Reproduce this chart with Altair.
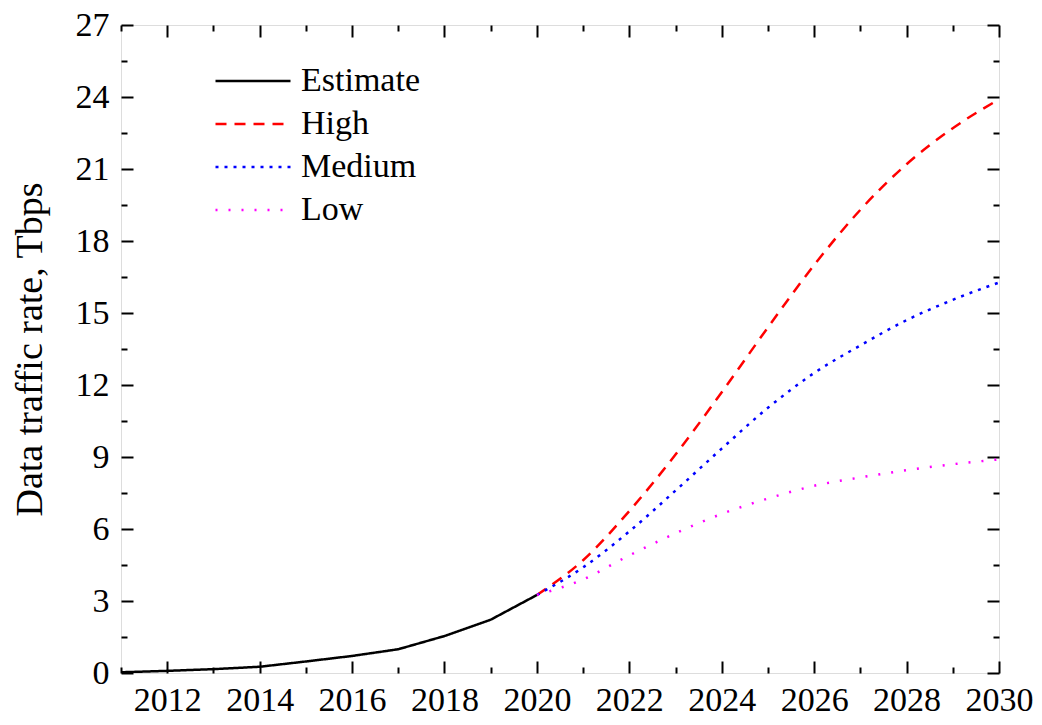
import altair as alt
import pandas as pd

FONT = "Liberation Serif"

# ---- data ----
series_names = ["Estimate", "High", "Medium", "Low"]
series_colors = ["#000000", "#ff0000", "#0000ff", "#ff00ff"]
series_dashes = [[1, 0], [11, 8], [3, 6], [2, 11]]

est_years = [2011, 2012, 2013, 2014, 2015, 2016, 2017, 2018, 2019, 2020]
estimate = [0.03, 0.09, 0.16, 0.26, 0.48, 0.71, 0.99, 1.54, 2.22, 3.25]

proj_years = [2020, 2021, 2022, 2023, 2024, 2025, 2026, 2027, 2028, 2029, 2030]
high = [3.25, 4.7, 6.75, 9.1, 11.7, 14.4, 17.0, 19.3, 21.2, 22.7, 23.9]
medium = [3.25, 4.4, 5.9, 7.6, 9.35, 11.05, 12.5, 13.65, 14.7, 15.55, 16.27]
low = [3.25, 3.9, 4.9, 5.82, 6.63, 7.27, 7.8, 8.15, 8.45, 8.7, 8.9]

x_major = [2012, 2014, 2016, 2018, 2020, 2022, 2024, 2026, 2028, 2030]
x_minor = [2011, 2013, 2015, 2017, 2019, 2021, 2023, 2025, 2027, 2029]
y_major = [0, 3, 6, 9, 12, 15, 18, 21, 24, 27]
y_minor = [1.5, 4.5, 7.5, 10.5, 13.5, 16.5, 19.5, 22.5, 25.5]

est_rows = [{"year": y, "value": v, "series": "Estimate"} for y, v in zip(est_years, estimate)]
proj_rows = []
for name, vals in (("High", high), ("Medium", medium), ("Low", low)):
    for y, v in zip(proj_years, vals):
        proj_rows.append({"year": y, "value": v, "series": name})
df_est = pd.DataFrame(est_rows)
df_proj = pd.DataFrame(proj_rows)
df_all = pd.concat([df_est, df_proj], ignore_index=True)

xs = alt.Scale(domain=[2011, 2030], nice=False, zero=False)
ys = alt.Scale(domain=[0, 27], nice=False, zero=False)

legend = alt.Legend(
    title=None, orient="none", legendX=93, legendY=39,
    symbolType="stroke", symbolSize=5625, symbolStrokeWidth=2.5,
    labelFont=FONT, labelFontSize=34, labelColor="black", labelOffset=9,
    clipHeight=34, rowPadding=9, padding=0, labelLimit=400,
)

color_enc = alt.Color("series:N", scale=alt.Scale(domain=series_names, range=series_colors), legend=legend)
dash_enc = alt.StrokeDash("series:N", scale=alt.Scale(domain=series_names, range=series_dashes), legend=legend)

x_main = alt.X("year:Q", scale=xs, axis=alt.Axis(
    orient="bottom", values=x_major, format="d", title=None, grid=False,
    domain=False, ticks=False, tickSize=0, labelFont=FONT, labelFontSize=34,
    labelColor="black", labelPadding=10, labelFlush=False, labelOverlap=False))
y_main = alt.Y("value:Q", scale=ys, axis=alt.Axis(
    orient="left", values=y_major, format="d", title="Data traffic rate, Tbps",
    grid=False, domain=False, ticks=False, tickSize=0, labelFont=FONT,
    labelFontSize=34, labelColor="black", labelPadding=12, labelOverlap=False,
    titleFont=FONT, titleFontSize=38, titleFontWeight="normal",
    titleColor="black", titlePadding=26))

proj_lines = alt.Chart(df_proj).mark_line(strokeWidth=2.5, interpolate="monotone", clip=True).encode(
    x=x_main, y=y_main, color=color_enc, strokeDash=dash_enc, detail="series:N",
)
est_line = alt.Chart(df_est).mark_line(strokeWidth=2.5, clip=True).encode(
    x=alt.X("year:Q", scale=xs, axis=None), y=alt.Y("value:Q", scale=ys, axis=None),
    color=color_enc, strokeDash=dash_enc,
)


def tick_layer(xorient, yorient, xvals, yvals, size):
    return alt.Chart(df_all).mark_point(opacity=0).encode(
        x=alt.X("year:Q", scale=xs, axis=alt.Axis(
            orient=xorient, values=xvals, labels=False, title=None, grid=False,
            domain=False, ticks=True, tickSize=size, tickWidth=2,
            tickColor="black", offset=-size)),
        y=alt.Y("value:Q", scale=ys, axis=alt.Axis(
            orient=yorient, values=yvals, labels=False, title=None, grid=False,
            domain=False, ticks=True, tickSize=size, tickWidth=2,
            tickColor="black", offset=-size)),
    )


chart = alt.layer(
    proj_lines,
    tick_layer("bottom", "left", x_major, y_major, 12),
    tick_layer("bottom", "left", x_minor, y_minor, 6),
    tick_layer("top", "right", x_major, y_major, 12),
    tick_layer("top", "right", x_minor, y_minor, 6),
    est_line,
).resolve_axis(x="independent", y="independent").properties(
    width=878, height=648,
    autosize=alt.AutoSizeParams(type="none"),
    padding={"left": 113, "top": 17, "right": 35, "bottom": 44},
).configure_view(stroke="black", strokeWidth=2.5).configure(background="white")

chart.save("out.html", embed_options={"renderer": "svg", "actions": False})
